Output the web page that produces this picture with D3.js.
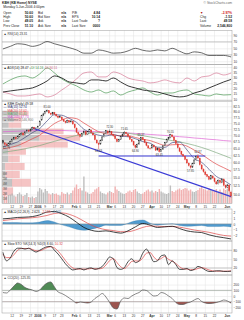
<!DOCTYPE html>
<html>
<head>
<meta charset="utf-8">
<script src="https://cdn.jsdelivr.net/npm/d3@7"></script>
<style>
  html, body { margin: 0; padding: 0; background: #fff; }
  svg { display: block; }
</style>
</head>
<body>
<svg id="chart" width="244" height="320"></svg>
<script>
/* ---------- data ---------- */
// daily bars, 5-Dec-2005 .. 5-Jun-2006
const closeP = [67.2,66.5,66.0,66.8,67.5, 68.4,69.0,68.6,69.5,70.2, 70.8,70.1,71.3,72.0,71.6, 72.4,73.1,72.6,72.9,
  73.5,75.8,78.2,79.0, 80.1,80.6,79.4,78.8,79.6, 78.9,78.1,77.4,77.9, 76.5,75.8,75.2,76.1,75.4, 75.9,74.6,
  73.0,71.2,70.4, 69.5,70.8,71.6,70.2,71.4, 72.2,71.0,70.1,68.2,67.0, 66.4,68.0,69.3,70.5, 71.8,70.9,
  71.5,70.4,69.8, 68.6,67.5,68.3,69.6,70.4, 71.2,70.6,69.5,68.4,67.6, 66.2,65.3,66.5,68.0,69.1, 68.3,67.2,66.0,65.1,64.9,
  66.2,65.5,64.3,65.0,63.8, 64.6,65.9,67.1,68.4, 69.0,70.2,69.4,68.0,66.7, 65.2,63.9,62.8,62.2,61.0,
  59.8,58.9,58.3,59.6,60.8, 62.1,61.5,59.2,57.8,56.9, 56.0,55.4,54.5,55.6,54.9, 53.8,53.1,54.2,53.5,54.6, 52.7,52.0,
  52.8,51.1, 49.58];
const openP = [67.8,67.0,66.4,66.1,66.9, 67.6,68.5,69.1,68.7,69.6, 70.3,70.9,70.2,71.4,72.1, 71.7,72.5,73.2,72.6,
  73.0,74.0,76.3,78.4, 79.2,80.2,80.4,79.3,78.9, 79.5,78.8,78.0,77.5, 77.6,76.4,75.7,75.3,76.0, 75.5,75.8,
  74.5,72.8,71.0, 70.3,69.6,70.9,71.5,70.3, 71.5,72.1,70.9,70.0,68.1, 66.8,66.6,68.1,69.4, 70.6,71.7,
  71.0,71.4,70.3, 69.7,68.5,67.6,68.4,69.7, 70.5,71.1,70.5,69.4,68.3, 67.5,66.1,65.4,66.6,68.1, 69.0,68.2,67.1,65.9,65.0,
  65.1,66.1,65.4,64.4,64.9, 63.9,64.7,66.0,67.2, 68.5,69.1,70.1,69.3,67.9, 66.6,65.1,63.8,62.7,62.1,
  60.9,59.7,58.8,58.4,59.7, 60.9,62.2,61.4,59.1,57.7, 56.8,55.9,55.3,54.6,55.5, 54.8,53.7,53.2,54.1,53.6, 54.5,52.6,
  52.1,52.7, 50.6];
const highP = [68.2,67.4,66.9,67.1,67.9, 68.8,69.4,69.5,69.9,70.6, 71.2,71.1,71.6,72.4,72.3, 72.7,73.5,73.4,73.2,
  73.9,76.2,78.6,79.5, 80.5,81.0,80.7,79.6,79.9, 79.8,79.1,78.3,78.4, 77.8,76.8,76.0,76.5,76.3, 76.3,76.0,
  74.8,73.2,71.4, 70.6,71.1,72.0,71.8,71.7, 72.6,72.3,71.2,70.2,68.4, 67.2,68.3,69.6,70.8, 72.1,72.0,
  72.3,71.7,70.6, 70.0,68.8,68.6,69.9,70.7, 71.65,71.4,70.8,69.7,68.6, 67.8,66.4,66.8,68.3,69.37, 69.2,68.5,67.4,66.2,65.4,
  66.5,66.4,65.7,65.3,65.2, 64.9,66.2,67.4,68.7, 69.3,70.55,70.4,69.6,68.2, 66.9,65.4,64.1,63.0,62.4,
  61.2,60.0,59.0,59.9,61.1, 62.4,62.87,61.7,59.4,58.0, 57.1,56.2,55.6,55.9,55.8, 55.1,54.0,54.5,54.4,54.9, 54.8,52.9,
  53.1,53.0, 50.6];
const lowP = [66.6,65.9,65.76,65.9,66.6, 67.3,68.1,68.2,68.5,69.2, 70.0,69.8,70.0,71.0,71.2, 71.5,72.2,72.3,72.3,
  72.7,73.8,76.0,78.0, 78.9,79.8,79.1,78.4,78.6, 78.5,77.7,77.0,77.2, 76.2,75.5,74.8,75.0,75.1, 75.2,74.3,
  72.7,70.9,70.0, 69.0,69.4,70.6,69.9,70.1, 71.2,70.7,69.8,67.9,66.7, 64.63,66.3,67.8,69.1, 70.3,70.6,
  70.7,70.1,69.4, 68.3,67.2,67.3,68.1,69.4, 70.2,70.3,69.2,68.1,67.3, 65.9,64.9,65.1,66.3,67.8, 68.0,66.9,65.7,64.8,64.5,
  64.9,65.2,64.0,64.1,63.45, 63.6,64.4,65.7,66.9, 68.2,68.8,69.1,67.7,66.4, 64.9,63.6,62.5,61.9,60.7,
  59.5,58.6,57.85,58.1,59.4, 60.6,61.2,58.9,57.5,56.6, 55.7,55.1,54.2,54.3,54.6, 53.5,52.8,52.9,53.2,53.3, 52.4,51.7,
  51.8,50.8, 49.05];
// volume, millions of shares
const volumeM = [1.6,1.9,1.5,1.7,1.8, 2.0,1.6,1.4,1.9,2.2, 1.8,1.5,1.7,2.1,1.3, 1.2,1.4,1.1,1.3,
  2.4,3.1,2.8,2.2, 2.9,2.5,2.0,1.8,2.1, 1.9,2.0,1.7,1.6, 2.3,2.0,1.9,2.2,1.8, 2.1,2.6,
  3.2,3.8,2.9, 3.1,2.6,5.4,2.4,2.2, 1.9,2.0,2.3,2.8,3.0, 3.3,2.4,2.1,2.0, 1.8,2.2,
  2.5,2.3,2.1, 3.4,2.8,2.5,2.2,2.0, 1.9,2.1,2.4,2.6,2.3, 2.7,2.9,2.4,2.1,1.9, 2.0,2.3,2.6,2.8,2.4,
  2.6,2.2,2.5,2.3,2.9, 2.4,2.2,2.0,1.9, 2.1,3.6,2.5,2.3,2.6, 2.8,3.0,2.7,2.9,3.1,
  3.0,2.6,2.8,2.4,2.3, 2.5,2.7,3.1,3.3,2.9, 2.8,2.6,3.0,2.7,2.5, 2.6,2.9,2.4,2.8,2.3, 3.0,2.7,
  2.9,3.2,2.55];

// overlays & indicators, sampled every 4th bar
const ma10 = [65.5,66.4,67.4,69.1,71.0,72.7,75.9,78.6,78.4,77.0,75.3,72.4,71.0,70.0,69.7,70.2,
  69.6,69.4,68.6,67.5,66.9,65.4,65.3,67.1,67.3,64.4,61.3,60.0,57.7,55.4,54.2,52.74];
const ma20 = [64.8,65.3,66.0,67.2,68.6,70.0,72.4,74.8,76.3,77.3,76.9,75.0,73.1,71.4,70.6,70.1,
  69.8,69.8,69.1,68.4,67.9,66.9,66.1,66.3,66.4,65.8,64.3,62.8,61.0,59.4,58.2,57.02];
const ma50 = [63.5,63.9,64.3,64.8,65.4,66.0,66.8,67.6,68.4,69.2,69.9,70.4,70.8,71.1,71.3,71.3,
  71.1,70.8,70.3,69.8,69.3,68.8,68.3,67.9,67.4,66.8,66.1,65.3,64.4,63.4,62.4,61.40];
const ma200 = [71.4,71.5,71.6,71.7,71.8,71.9,71.9,71.9,71.9,71.8,71.7,71.6,71.5,71.4,71.3,71.2,
  71.0,70.9,70.7,70.5,70.3,70.1,69.9,69.7,69.4,69.2,68.9,68.7,68.4,68.2,67.9,67.70];
const rsi = [48,56,64,62,56,61,71,64,58,52,45,35,35,45,41,35,36,42,50,44,41,45,42,50,41,33,39,36,28,28,28,23.31];
const plusDI = [24.2,28,30.8,31.7,29.8,33.6,39.2,34.5,28.9,25.2,22.4,18.6,16.7,18.6,15.8,17.7,
  13.9,16.7,18.6,20.5,16.7,13.9,15.8,15.8,17.7,18.6,14.9,13.9,13,14.9,13.9,14.24];
const minusDI = [16.7,14.9,13,13,13.9,14.9,12.1,13.9,18.6,23.3,28.9,34.5,35.4,30.8,30.8,35.4,
  33.6,29.8,28,27,25.2,26.1,28,26.1,25.2,29.8,27,30.8,31.7,34.5,32.6,34.51];
const adx = [16.7,17.7,18.6,19.5,20.5,23.3,27,31.7,29.8,26.1,25.2,24.2,28,28,27,29.8,
  26.1,22.4,20.5,18.6,17.7,16.7,14.9,13,12.1,13,15.8,17.7,20.5,23.3,26.1,28.47];
const macdLine = [0.9,1.0,1.15,1.2,1.3,1.6,2.1,2.2,1.8,1.2,0.3,-0.6,-1.1,-1.3,-1.2,-1.4,
  -1.6,-1.2,-0.5,0.1,-0.2,-0.6,-0.5,-0.4,-0.8,-1.2,-1.4,-1.5,-1.9,-2.2,-2.4,-2.623];
const macdSignal = [0.6,0.75,0.9,1.0,1.1,1.25,1.5,1.85,1.95,1.7,1.2,0.5,-0.2,-0.7,-1.0,-1.15,
  -1.35,-1.35,-1.05,-0.6,-0.35,-0.4,-0.45,-0.45,-0.55,-0.8,-1.05,-1.25,-1.45,-1.75,-2.0,-2.118];
// sampled every 2nd bar
const stoK = [73,44,54,77,87,87,84,87,80,74,80,87,92,93,80,67,51,34,21,13,16,18,13,18,20,15,18,25,41,57,51,
  21,15,21,41,51,38,44,70,84,64,41,44,61,64,31,44,31,15,15,18,11,15,25,21,13,8,8,10,10,8,8,8.6];
const stoD = [66,55,55,65,80,86,86,86,83,78,78,83,89,92,88,77,62,45,30,20,16,16,16,16,18,17,17,19,30,45,52,
  38,24,18,28,42,44,43,54,70,72,57,47,52,59,49,43,35,24,17,16,14,14,18,21,18,13,10,9,9,9,9,10.32];
const cci = [61,53,105,175,228,202,149,123,105,79,105,175,228,246,158,70,44,9,-35,-79,-123,-105,-114,-123,-105,
  -44,0,44,-18,-114,-210,-228,-88,-35,-44,0,35,61,105,96,44,0,9,61,44,0,-44,-114,-149,-149,-123,-105,-70,
  -44,-96,-123,-132,-128,-114,-96,-70,-88,-125.35];

// date axis
const tickIdx = [5,10,15,19,23,28,32,39,42,47,52,58,61,66,71,76,81,86,90,95,100,105,110,115,122];
const tickLabels = ['12','19','27','2006','9','17','23','Feb','6','13','21','Mar','6','13','20','27','Apr','10','17','24','May','8','15','22','Jun'];
const boldLabels = ['2006','Feb','Mar','Apr','May','Jun'];

// high / low annotations: bar index, which end
const annotations = [[2,'L'],[24,'H'],[52,'L'],[58,'H'],[66,'H'],[72,'L'],[75,'H'],[85,'L'],[91,'H'],[102,'L'],[106,'H']];
// trendlines: [bar, price] pairs
const trendLines = [[[16, 72.9], [124, 49.4]], [[52, 62.2], [110, 62.2]]];

// quote header
const quoteA = [['Open', '50.60'], ['High', '50.60'], ['Low', '49.05'], ['Prev Close', '51.10']];
const quoteB = [['Bid', 'n/a'], ['Bid Size', 'n/a'], ['Ask', 'n/a'], ['Ask Size', 'n/a']];
const quoteC = [['P/E', '4.84'], ['EPS', '10.14'], ['Last Trade', '?'], ['Last Size', '0000']];
const quoteD = [['Chg', '-1.52'], ['Last', '49.58'], ['Volume', '2,546,800']];

/* ---------- layout ---------- */
const X0 = 2, X1 = 232;
const FONT = '"Liberation Sans", Arial, sans-serif';
const RED = '#e03a32';
const GRID = '#e2e2e2';

const svg = d3.select('#chart').attr('font-family', FONT);
const defs = svg.append('defs');

const x = d3.scaleBand().domain(d3.range(closeP.length)).range([X0, X1]).paddingInner(0.4).paddingOuter(0.2);
const cx = i => x(i) + x.bandwidth() / 2;
const idx4 = d3.range(0, closeP.length, 4);
const idx2 = d3.range(0, closeP.length, 2);
const pts = (idx, vals) => vals.map((v, k) => [idx[k], v]);

function clip(id, top, bottom) {
  defs.append('clipPath').attr('id', id).append('rect')
    .attr('x', X0).attr('y', top).attr('width', X1 - X0).attr('height', bottom - top);
  return `url(#${id})`;
}

// grid + right axis for a panel
function panel(top, bottom, y, ticks, fmt) {
  const g = svg.append('g');
  g.append('g')
    .attr('transform', `translate(0,${bottom})`)
    .call(d3.axisBottom(x).tickValues(tickIdx).tickSize(-(bottom - top)).tickFormat(''))
    .call(a => a.select('.domain').remove())
    .call(a => a.selectAll('line').attr('stroke', GRID).attr('stroke-width', 0.5));
  g.append('g')
    .attr('transform', `translate(${X1},0)`)
    .call(d3.axisRight(y).tickValues(ticks).tickSizeInner(-(X1 - X0)).tickSizeOuter(0).tickPadding(1.6).tickFormat(fmt))
    .attr('font-size', 3.2).attr('font-family', FONT)
    .call(a => a.select('.domain').remove())
    .call(a => a.selectAll('line').attr('stroke', GRID).attr('stroke-width', 0.5))
    .call(a => a.selectAll('text').attr('fill', '#333'));
  return g;
}
function border(top, bottom) {
  svg.append('rect').attr('x', X0).attr('y', top).attr('width', X1 - X0).attr('height', bottom - top)
    .attr('fill', 'none').attr('stroke', '#9a9a9a').attr('stroke-width', 0.5);
}
function level(g, y, v) {
  g.append('line').attr('x1', X0).attr('x2', X1).attr('y1', y(v)).attr('y2', y(v))
    .attr('stroke', '#999').attr('stroke-width', 0.5);
}
function drawLine(g, data, y, color, w, clipId) {
  g.append('path').datum(data)
    .attr('clip-path', clipId)
    .attr('d', d3.line().x(d => cx(d[0])).y(d => y(d[1])).curve(d3.curveMonotoneX))
    .attr('fill', 'none').attr('stroke', color).attr('stroke-width', w);
}
function label(yPos, parts) {
  const t = svg.append('text').attr('x', X0 + 1.5).attr('y', yPos).attr('font-size', 3.2);
  parts.forEach(([txt, col]) => t.append('tspan').attr('fill', col).text(txt));
}
function dateLabels(yPos) {
  svg.append('g')
    .attr('transform', `translate(0,${yPos})`)
    .call(d3.axisBottom(x).tickValues(tickIdx).tickSize(0).tickPadding(0).tickFormat((d, k) => tickLabels[k]))
    .attr('font-size', 3.2).attr('font-family', FONT)
    .call(a => a.select('.domain').remove())
    .call(a => a.selectAll('text').attr('fill', '#333')
      .attr('font-weight', (d, k) => boldLabels.includes(tickLabels[k]) ? 'bold' : 'normal'));
}

/* ---------- header ---------- */
const head = svg.append('g').attr('font-size', 3.3).attr('fill', '#222');
head.append('text').attr('x', X0).attr('y', 3.8).attr('font-weight', 'bold').text('KBH (KB Home) NYSE');
head.append('text').attr('x', X1).attr('y', 3.8).attr('text-anchor', 'end').attr('fill', '#666').text('© StockCharts.com');
head.append('text').attr('x', 3.3).attr('y', 8.2).text('Monday 5-Jun-2006 4:00pm');
const rowY = [13.5, 17.9, 22.2, 26.9];
[[quoteA, 3.3, 33], [quoteB, 38, 66], [quoteC, 72, 100]].forEach(([rows, lx, vx]) => {
  rows.forEach(([k, v], r) => {
    head.append('text').attr('x', lx).attr('y', rowY[r]).text(k);
    head.append('text').attr('x', vx).attr('y', rowY[r]).attr('text-anchor', 'end').attr('font-weight', 'bold').text(v);
  });
});
head.append('text').attr('x', 200).attr('y', rowY[0]).attr('fill', '#b01818').text('▼');
head.append('text').attr('x', X1).attr('y', rowY[0]).attr('text-anchor', 'end').attr('font-weight', 'bold')
  .attr('fill', '#d01818').text('-2.97%');
quoteD.forEach(([k, v], r) => {
  head.append('text').attr('x', 200).attr('y', rowY[r + 1]).text(k);
  head.append('text').attr('x', X1).attr('y', rowY[r + 1]).attr('text-anchor', 'end').attr('font-weight', 'bold').text(v);
});

/* ---------- RSI ---------- */
const yRsi = d3.scaleLinear().domain([0, 105]).range([64.5, 30.5]);
const gRsi = panel(30.5, 64.5, yRsi, [10, 30, 50, 70, 90], d3.format('d'));
level(gRsi, yRsi, 70); level(gRsi, yRsi, 30);
drawLine(gRsi, pts(idx4, rsi), yRsi, '#444', 0.8, clip('c-rsi', 30.5, 64.5));
border(30.5, 64.5);
label(34.6, [['▲ RSI(14) 23.31', '#333']]);

/* ---------- ADX ---------- */
const yAdx = d3.scaleLinear().domain([8.3, 42.4]).range([101, 64.5]);
const gAdx = panel(64.5, 101, yAdx, [10, 15, 20, 25, 30, 35, 40], d3.format('d'));
const cAdx = clip('c-adx', 64.5, 101);
drawLine(gAdx, pts(idx4, minusDI), yAdx, '#d77a96', 0.7, cAdx);
drawLine(gAdx, pts(idx4, plusDI), yAdx, '#4c9a55', 0.7, cAdx);
drawLine(gAdx, pts(idx4, adx), yAdx, '#222', 0.9, cAdx);
border(64.5, 101);
label(68.5, [['▲ ADX(14) 28.47 ', '#222'], ['+DI 14.24 ', '#3f8f48'], ['-DI 34.51', '#cc6680']]);

/* ---------- price ---------- */
const pTop = 101, pBot = 203.5;
const yP = d3.scaleLog().domain([47.5, 85]).range([pBot, pTop]);
const yVol = d3.scaleLinear().domain([0, 6.6]).range([pBot, 170.5]);
const gP = panel(pTop, pBot, yP, d3.range(50, 84, 2.5), d3.format('.1f'));
const cP = clip('c-price', pTop, pBot);

// volume by price (12 equal price zones of the closes)
const lo = d3.min(closeP), hi = d3.max(closeP), zs = (hi - lo) / 12;
const zones = d3.range(12).map(k => ({ lo: lo + k * zs, hi: lo + (k + 1) * zs, up: 0, down: 0 }));
closeP.forEach((c, i) => {
  const z = zones[Math.min(11, Math.floor((c - lo) / zs))];
  if (i > 0 && c < closeP[i - 1]) z.down += volumeM[i]; else z.up += volumeM[i];
});
const wVbp = d3.scaleLinear().domain([0, d3.max(zones, z => z.up + z.down)]).range([0, 78]);
const gV = gP.append('g').attr('clip-path', cP);
gV.selectAll(null).data(zones).join('rect')
  .attr('x', X0).attr('y', z => yP(z.hi) + 0.4).attr('height', z => yP(z.lo) - yP(z.hi) - 0.8)
  .attr('width', z => wVbp(z.up)).attr('fill', '#9c9c9c').attr('opacity', 0.6);
gV.selectAll(null).data(zones).join('rect')
  .attr('x', z => X0 + wVbp(z.up)).attr('y', z => yP(z.hi) + 0.4).attr('height', z => yP(z.lo) - yP(z.hi) - 0.8)
  .attr('width', z => wVbp(z.down)).attr('fill', '#ef9c9c').attr('opacity', 0.6);

// volume bars
gV.selectAll(null).data(volumeM).join('rect')
  .attr('x', (d, i) => x(i) - 0.15).attr('width', x.bandwidth() + 0.3)
  .attr('y', d => yVol(d)).attr('height', d => pBot - yVol(d))
  .attr('fill', (d, i) => (i > 0 && closeP[i] < closeP[i - 1]) ? '#f0a4a4' : '#b4b4b4')
  .attr('opacity', 0.85);
gP.append('g').attr('font-size', 2.9).attr('fill', '#555')
  .selectAll(null).data([1, 2, 3, 4, 5, 6]).join('text')
  .attr('x', X0 + 1).attr('y', d => yVol(d) + 1).text(d => d + 'M');

// moving averages
drawLine(gP, pts(idx4, ma200), yP, '#e064d4', 0.7, cP);
drawLine(gP, pts(idx4, ma50), yP, '#7faa7f', 0.7, cP);
drawLine(gP, pts(idx4, ma20), yP, '#e04848', 0.7, cP);
drawLine(gP, pts(idx4, ma10), yP, '#2b3270', 0.6, cP);

// trendlines
gP.append('g').attr('clip-path', cP).selectAll(null).data(trendLines).join('line')
  .attr('x1', d => cx(d[0][0])).attr('y1', d => yP(d[0][1]))
  .attr('x2', d => cx(d[1][0])).attr('y2', d => yP(d[1][1]))
  .attr('stroke', '#3b3bd6').attr('stroke-width', 1.2);

// candles
const candleColor = i => (i > 0 && closeP[i] < closeP[i - 1]) ? RED : '#111';
const gC = gP.append('g').attr('clip-path', cP);
gC.selectAll(null).data(closeP).join('line')
  .attr('x1', (d, i) => cx(i)).attr('x2', (d, i) => cx(i))
  .attr('y1', (d, i) => yP(highP[i])).attr('y2', (d, i) => yP(lowP[i]))
  .attr('stroke', (d, i) => candleColor(i)).attr('stroke-width', 0.45);
gC.selectAll(null).data(closeP).join('rect')
  .attr('x', (d, i) => x(i)).attr('width', x.bandwidth())
  .attr('y', (d, i) => yP(Math.max(openP[i], d)))
  .attr('height', (d, i) => Math.max(0.5, Math.abs(yP(openP[i]) - yP(d))))
  .attr('fill', (d, i) => d < openP[i] ? candleColor(i) : '#fff')
  .attr('stroke', (d, i) => candleColor(i)).attr('stroke-width', 0.35);

// high / low price tags
gP.append('g').attr('font-size', 2.8).attr('fill', '#333').attr('text-anchor', 'middle')
  .selectAll(null).data(annotations).join('text')
  .attr('x', d => cx(d[0]))
  .attr('y', d => d[1] === 'H' ? yP(highP[d[0]]) - 1.2 : yP(lowP[d[0]]) + 3.2)
  .text(d => d3.format('.2f')(d[1] === 'H' ? highP[d[0]] : lowP[d[0]]));

border(pTop, pBot);
const legend = [
  [['▲ KBH (Daily) 49.58', '#111']],
  [['— MA(10) 52.74', '#2b3270']],
  [['— MA(20) 57.02', '#e04848']],
  [['— MA(50) 61.40', '#5f9a5f']],
  [['— MA(200) 67.70', '#d050c8']],
  [['▲ Volume 2,546,800', '#777']]
];
legend.forEach((parts, k) => label(105.3 + k * 3.1, parts));

dateLabels(205.6);

/* ---------- MACD ---------- */
const mTop = 209, mBot = 241;
const yM = d3.scaleLinear().domain([-2.98, 2.63]).range([mBot, mTop]);
const gM = panel(mTop, mBot, yM, [-2, -1, 0, 1, 2], d3.format('d'));
const cM = clip('c-macd', mTop, mBot);
const hist = pts(idx4, macdLine.map((m, k) => m - macdSignal[k]));
gM.append('path').datum(hist).attr('clip-path', cM)
  .attr('d', d3.area().x(d => cx(d[0])).y0(yM(0)).y1(d => yM(d[1])).curve(d3.curveMonotoneX))
  .attr('fill', '#4f9bd0').attr('stroke', '#2d6f9f').attr('stroke-width', 0.3);
level(gM, yM, 0);
drawLine(gM, pts(idx4, macdSignal), yM, '#e04848', 0.7, cM);
drawLine(gM, pts(idx4, macdLine), yM, '#111', 0.8, cM);
border(mTop, mBot);
label(212.6, [['▲ MACD(12,26,9) -2.623, ', '#222'], ['-2.118, ', '#e04848'], ['-0.505', '#2d6f9f']]);

/* ---------- Slow STO ---------- */
const sTop = 241, sBot = 275;
const yS = d3.scaleLinear().domain([-4.1, 111.5]).range([sBot, sTop]);
const gS = panel(sTop, sBot, yS, [20, 50, 80], d3.format('d'));
const cS = clip('c-sto', sTop, sBot);
level(gS, yS, 80); level(gS, yS, 20);
drawLine(gS, pts(idx2, stoD), yS, '#e04848', 0.7, cS);
drawLine(gS, pts(idx2, stoK), yS, '#222', 0.8, cS);
border(sTop, sBot);
label(245.2, [['▲ Slow STO %K(14,3) %D(3) 8.60, ', '#222'], ['10.32', '#e04848']]);

/* ---------- CCI ---------- */
const ccTop = 275, ccBot = 313;
const yCc = d3.scaleLinear().domain([-298, 368]).range([ccBot, ccTop]);
const gCc = panel(ccTop, ccBot, yCc, [-200, -100, 0, 100, 200], d3.format('d'));
const cciPts = pts(idx2, cci);
defs.append('clipPath').attr('id', 'c-cci-up').append('rect')
  .attr('x', X0).attr('y', ccTop).attr('width', X1 - X0).attr('height', yCc(100) - ccTop);
defs.append('clipPath').attr('id', 'c-cci-dn').append('rect')
  .attr('x', X0).attr('y', yCc(-100)).attr('width', X1 - X0).attr('height', ccBot - yCc(-100));
gCc.append('path').datum(cciPts).attr('clip-path', 'url(#c-cci-up)')
  .attr('d', d3.area().x(d => cx(d[0])).y0(yCc(100)).y1(d => yCc(d[1])).curve(d3.curveMonotoneX))
  .attr('fill', '#4f8a55');
gCc.append('path').datum(cciPts).attr('clip-path', 'url(#c-cci-dn)')
  .attr('d', d3.area().x(d => cx(d[0])).y0(yCc(-100)).y1(d => yCc(d[1])).curve(d3.curveMonotoneX))
  .attr('fill', '#9c5550');
level(gCc, yCc, 100); level(gCc, yCc, -100);
drawLine(gCc, cciPts, yCc, '#555', 0.7, clip('c-cci', ccTop, ccBot));
border(ccTop, ccBot);
label(278.6, [['▲ CCI(20) -125.35', '#333']]);

dateLabels(314.8);
</script>
</body>
</html>
